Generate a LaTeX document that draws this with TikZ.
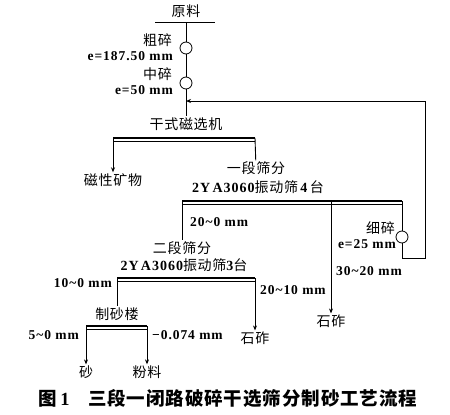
\documentclass[tikz,border=0pt]{standalone}
\usepackage{fontspec}
\setmainfont{Liberation Serif}
\newfontfamily\cjk[LetterSpace=5]{Noto Sans CJK SC}
\newfontfamily\numfont[LetterSpace=7]{Liberation Serif}
\usetikzlibrary{arrows.meta}

\tikzset{
    cn/.style={font=\cjk\fontsize{14}{16}\selectfont, inner sep=1pt},
    num/.style={font=\numfont\bfseries\fontsize{13.5}{15}\selectfont, inner sep=1pt},
    crusher/.style={draw, circle, minimum size=12pt, inner sep=0pt, line width=0.8pt},
    flow/.style={line width=0.9pt},
    sieve/.style={line width=2.2pt},
    sievelow/.style={line width=0.6pt}
}

\newcommand{\sievebar}[2]{
    \draw[sieve] (#1) -- (#2);
    \draw[sievelow] ([yshift=-3.2pt]#1) -- ([yshift=-3.2pt]#2);
}

\begin{document}
\begin{tikzpicture}[x=1pt, y=-1pt, >={Stealth[length=5pt,width=4pt]}]
    \useasboundingbox (0,0) rectangle (450,415);

    \node[cn] (raw) at (186,11) {原料};
    \coordinate (rawl) at (155,22);
    \coordinate (rawr) at (215,22);
    \coordinate (feed) at (186,22);
    \draw[flow] (rawl) -- (rawr);

    \node[crusher] (c1) at (186,48) {};
    \node[cn, anchor=east] at (173,40) {粗碎};
    \node[num, anchor=east] at (174,56) {e=187.50 mm};

    \node[crusher] (c2) at (186,83) {};
    \node[cn, anchor=east] at (173,74) {中碎};
    \node[num, anchor=east] at (174,90) {e=50 mm};

    \coordinate (ret) at (186,101);
    \node[cn] (mag) at (186,124) {干式磁选机};
    \draw[flow] (feed) -- (c1) -- (c2) -- (mag);

    \coordinate (m1) at (113,138);
    \coordinate (m2) at (255,138);
    \sievebar{m1}{m2}
    \node[cn] (magout) at (113,180) {磁性矿物};
    \draw[flow,->] (m1) -- (magout);

    \node[cn] (s1) at (256,168) {一段筛分};
    \node[cn] (s1b) at (258,187) {{\numfont\bfseries 2Y\,A3060}振动筛{\numfont\bfseries\,4\,}台};
    \draw[flow] (m2) -- (s1);

    \coordinate (p1l) at (182,201);
    \coordinate (p1m) at (331,201);
    \coordinate (p1r) at (402,201);
    \sievebar{p1l}{p1r}
    \node[num, anchor=west] at (189,222) {20\textasciitilde 0 mm};

    \node[cn] (stone1) at (331,321) {石砟};
    \draw[flow,->] (p1m) -- (stone1);
    \node[num, anchor=west] at (335,271) {30\textasciitilde 20 mm};

    \node[crusher] (c3) at (402,237) {};
    \node[cn, anchor=east] at (396,228) {细碎};
    \node[num, anchor=east] at (397,244) {e=25 mm};
    \coordinate (loopa) at (402,258);
    \coordinate (loopb) at (425,258);
    \coordinate (loopc) at (425,101);
    \draw[flow] (p1r) -- (c3);
    \draw[flow,->] (c3) -- (loopa) -- (loopb) -- (loopc) -- (ret);

    \node[cn] (s2) at (182,248) {二段筛分};
    \node[cn] (s2b) at (184,265) {{\numfont\bfseries 2Y\,A3060}振动筛{\numfont\bfseries 3}台};
    \draw[flow] (p1l) -- (s2);

    \coordinate (p2l) at (117,278);
    \coordinate (p2r) at (255,278);
    \sievebar{p2l}{p2r}
    \node[num, anchor=east] at (113,283) {10\textasciitilde 0 mm};
    \node[num, anchor=west] at (259,290) {20\textasciitilde 10 mm};
    \node[cn] (stone2) at (255,338) {石砟};
    \draw[flow,->] (p2r) -- (stone2);

    \node[cn] (plant) at (117,314) {制砂楼};
    \draw[flow] (p2l) -- (plant);

    \coordinate (p3l) at (86,326);
    \coordinate (p3r) at (147,326);
    \sievebar{p3l}{p3r}
    \node[num, anchor=east] at (80,335) {5\textasciitilde 0 mm};
    \node[num, anchor=west] at (151,335) {−0.074 mm};
    \node[cn] (sand) at (86,372) {砂};
    \node[cn] (powder) at (147,372) {粉料};
    \draw[flow,->] (p3l) -- (sand);
    \draw[flow,->] (p3r) -- (powder);

    \node[font=\cjk\bfseries\fontsize{18.5}{21}\selectfont] (cap) at (228,398)
        {图{\numfont\bfseries\,1}\quad 三段一闭路破碎干选筛分制砂工艺流程};
\end{tikzpicture}
\end{document}
